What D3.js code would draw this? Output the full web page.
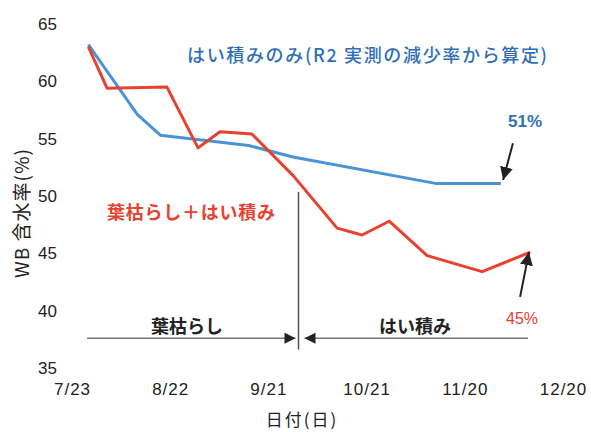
<!DOCTYPE html>
<html>
<head>
<meta charset="utf-8">
<script src="https://cdn.jsdelivr.net/npm/d3@7"></script>
<style>
  html, body { margin: 0; padding: 0; background: #fff; }
  svg { display: block; }
  text { font-family: "Liberation Sans", Arial, "Noto Sans CJK JP", sans-serif; }
  .jp { font-family: "Noto Sans CJK JP", sans-serif; }
</style>
</head>
<body>
<svg id="chart" width="591" height="432"></svg>
<script>
// ---- data (days after 7/23/2020, water content %) ----
const startDate = "2020-07-23";
const endDate = "2020-12-20";
const tickDays = [0, 30, 60, 90, 120, 150];
const tickLabels = ["7/23", "8/22", "9/21", "10/21", "11/20", "12/20"];
const yTicks = [35, 40, 45, 50, 55, 60, 65];

const blueDays = [5, 20, 27, 54, 67.5, 111, 131];
const blueValues = [63.2, 57.1, 55.3, 54.4, 53.4, 51.1, 51.1];

const redDays = [5, 10.7, 29, 38.5, 45.2, 55, 67.5, 81, 88.6, 96.9, 108.5, 125.3, 140];
const redValues = [63.0, 59.4, 59.5, 54.2, 55.6, 55.4, 51.8, 47.2, 46.6, 47.8, 44.8, 43.4, 45.1];

const seriesNames = ["はい積みのみ(R2 実測の減少率から算定)", "葉枯らし＋はい積み"];
const phaseNames = ["葉枯らし", "はい積み"];
const endLabels = ["51%", "45%"];
const boundaryDay = 69.2;

// ---- setup ----
const svg = d3.select("#chart");
const t0 = d3.timeParse("%Y-%m-%d")(startDate);
const t1 = d3.timeParse("%Y-%m-%d")(endDate);
const dayToDate = d => new Date(t0.getTime() + d * 86400000);

const x = d3.scaleTime().domain([t0, t1]).range([72, 563]);
const y = d3.scaleLinear().domain([35, 65]).range([368, 24]);

const blueColor = "#4a93d6";
const blueText = "#2f6fb8";
const redColor = "#e8412f";

// ---- axes ----
const yAxis = d3.axisLeft(y).tickValues(yTicks).tickSize(0).tickPadding(15).tickFormat(d3.format("d"));
const gy = svg.append("g").attr("transform", "translate(72,0)").call(yAxis);
gy.select(".domain").remove();
gy.selectAll("text").attr("font-size", 17).attr("fill", "#222")
  .style("font-family", "'Liberation Sans', Arial, sans-serif");

const xAxis = d3.axisBottom(x).tickValues(tickDays.map(dayToDate)).tickSize(0).tickPadding(15)
  .tickFormat((d, i) => tickLabels[i]);
const gx = svg.append("g").attr("transform", "translate(0,368)").call(xAxis);
gx.select(".domain").remove();
gx.selectAll("text").attr("font-size", 17).attr("fill", "#222").attr("letter-spacing", 1)
  .style("font-family", "'Liberation Sans', Arial, sans-serif");

// axis titles
svg.append("text").attr("class", "jp")
  .attr("transform", "translate(29,213) rotate(-90)")
  .attr("text-anchor", "middle").attr("font-size", 19).attr("fill", "#222")
  .attr("letter-spacing", 1)
  .text("WB 含水率(%)");
svg.append("text").attr("class", "jp")
  .attr("x", 302).attr("y", 426).attr("text-anchor", "middle")
  .attr("font-size", 17).attr("fill", "#222").attr("letter-spacing", 2)
  .text("日付(日)");

// ---- lines ----
const line = d3.line().x(d => x(dayToDate(d[0]))).y(d => y(d[1]));
const blueData = blueDays.map((d, i) => [d, blueValues[i]]);
const redData = redDays.map((d, i) => [d, redValues[i]]);

svg.append("path").datum(blueData).attr("d", line)
  .attr("fill", "none").attr("stroke", blueColor).attr("stroke-width", 3)
  .attr("stroke-linejoin", "round");
svg.append("path").datum(redData).attr("d", line)
  .attr("fill", "none").attr("stroke", redColor).attr("stroke-width", 3)
  .attr("stroke-linejoin", "round");

// ---- boundary line & phase arrows ----
const bx = x(dayToDate(boundaryDay));
svg.append("line").attr("x1", bx).attr("x2", bx)
  .attr("y1", y(50.35)).attr("y2", y(36.6))
  .attr("stroke", "#555").attr("stroke-width", 1.5);

const ay = y(37.6);
const defs = svg.append("defs");
function marker(id, color, w, h) {
  defs.append("marker").attr("id", id).attr("viewBox", "0 0 10 10")
    .attr("refX", 10).attr("refY", 5).attr("markerWidth", w).attr("markerHeight", h)
    .attr("markerUnits", "userSpaceOnUse").attr("orient", "auto")
    .append("path").attr("d", "M0,0 L10,5 L0,10 Z").attr("fill", color);
}
marker("tri", "#222", 12, 11);
marker("arr", "#222", 13, 13);

svg.append("line").attr("x1", x(dayToDate(4.6))).attr("x2", bx - 3)
  .attr("y1", ay).attr("y2", ay).attr("stroke", "#777").attr("stroke-width", 1.5)
  .attr("marker-end", "url(#tri)");
svg.append("line").attr("x1", x(dayToDate(139.3))).attr("x2", bx + 6)
  .attr("y1", ay).attr("y2", ay).attr("stroke", "#777").attr("stroke-width", 1.5)
  .attr("marker-end", "url(#tri)");

svg.append("text").attr("class", "jp").attr("x", 187).attr("y", ay - 5)
  .attr("text-anchor", "middle").attr("font-size", 18).attr("font-weight", "bold").attr("fill", "#222")
  .text(phaseNames[0]);
svg.append("text").attr("class", "jp").attr("x", 415).attr("y", ay - 5)
  .attr("text-anchor", "middle").attr("font-size", 18).attr("font-weight", "bold").attr("fill", "#222")
  .text(phaseNames[1]);

// ---- series labels ----
svg.append("text").attr("class", "jp").attr("x", 187).attr("y", 62)
  .attr("font-size", 18).attr("fill", blueText).attr("font-weight", 500)
  .attr("textLength", 360).attr("lengthAdjust", "spacing")
  .text(seriesNames[0]);
svg.append("text").attr("class", "jp").attr("x", 107).attr("y", 219)
  .attr("font-size", 18).attr("fill", redColor).attr("font-weight", "bold")
  .attr("textLength", 168).attr("lengthAdjust", "spacing")
  .text(seriesNames[1]);

// ---- end arrows & labels ----
svg.append("line")
  .attr("x1", x(dayToDate(134.7))).attr("y1", y(54.6))
  .attr("x2", x(dayToDate(131.7))).attr("y2", y(51.4))
  .attr("stroke", "#222").attr("stroke-width", 2).attr("marker-end", "url(#arr)");
svg.append("line")
  .attr("x1", x(dayToDate(136.9))).attr("y1", y(41.2))
  .attr("x2", x(dayToDate(139.6))).attr("y2", y(45.1))
  .attr("stroke", "#222").attr("stroke-width", 2).attr("marker-end", "url(#arr)");

svg.append("text").attr("x", 525).attr("y", 127).attr("text-anchor", "middle")
  .attr("font-size", 17).attr("font-weight", "bold").attr("fill", blueText)
  .text(endLabels[0]);
svg.append("text").attr("x", 522).attr("y", 324).attr("text-anchor", "middle")
  .attr("font-size", 16).attr("fill", redColor)
  .text(endLabels[1]);
</script>
</body>
</html>
